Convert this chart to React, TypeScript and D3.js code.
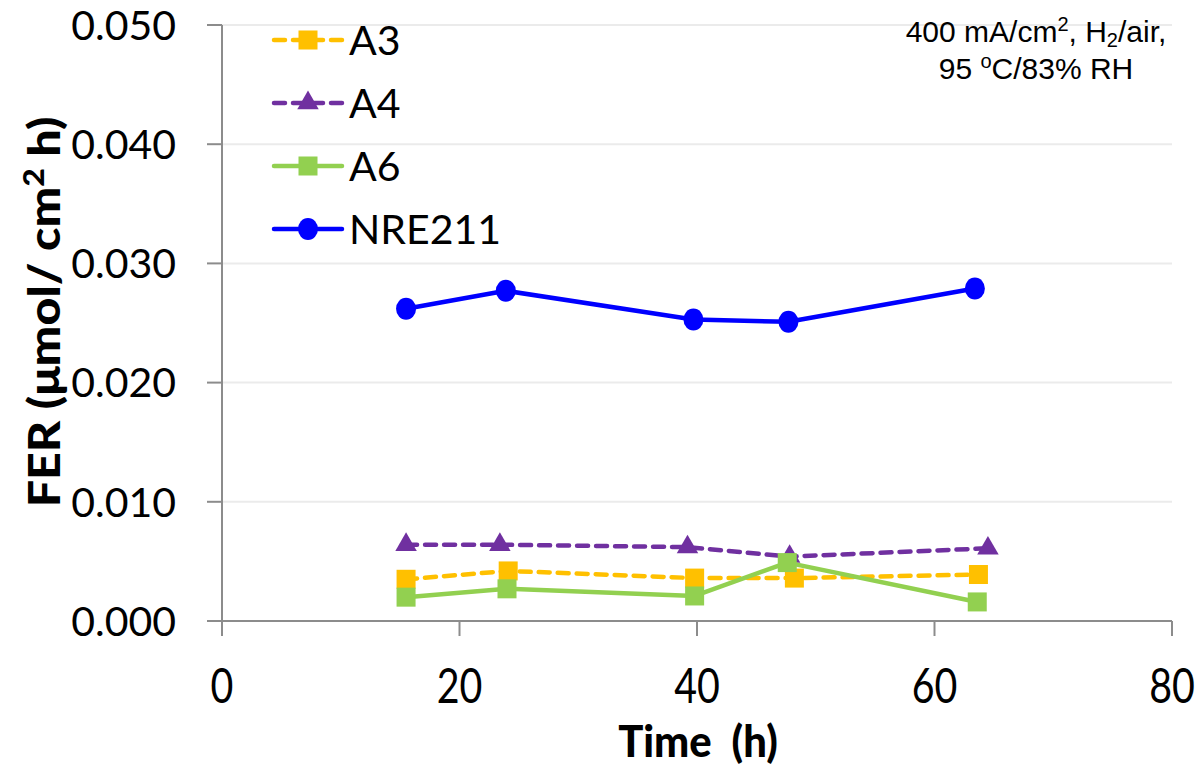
import * as d3 from 'd3'

const seriesNames = ['A3', 'A4', 'A6', 'NRE211']

const a3Time = [15.5, 24.1, 39.8, 48.2, 63.7]
const a3Fer = [0.0035, 0.0042, 0.0036, 0.0036, 0.0039]

const a4Time = [15.5, 23.4, 39.2, 47.8, 64.5]
const a4Fer = [0.0064, 0.0064, 0.0062, 0.0054, 0.0061]

const a6Time = [15.5, 24.0, 39.8, 47.6, 63.6]
const a6Fer = [0.0020, 0.0027, 0.0021, 0.0049, 0.0016]

const nreTime = [15.5, 23.9, 39.7, 47.7, 63.4]
const nreFer = [0.0262, 0.0277, 0.0253, 0.0251, 0.0279]

const xTicks = [0, 20, 40, 60, 80]
const yTicks = [0, 0.01, 0.02, 0.03, 0.04, 0.05]

const W = 1201
const H = 773
const left = 222
const right = 1172
const top = 25
const bottom = 621

const colors = { A3: '#FFC000', A4: '#7030A0', A6: '#92D050', NRE211: '#0000FF' }

export default function App() {
  const x = d3.scaleLinear().domain([0, 80]).range([left, right])
  const y = d3.scaleLinear().domain([0, 0.05]).range([bottom, top])

  const series = [
    { name: 'A3', time: a3Time, fer: a3Fer, dash: '11 8', marker: 'square' },
    { name: 'A4', time: a4Time, fer: a4Fer, dash: '11 8', marker: 'triangle' },
    { name: 'A6', time: a6Time, fer: a6Fer, dash: null, marker: 'square' },
    { name: 'NRE211', time: nreTime, fer: nreFer, dash: null, marker: 'circle' },
  ]

  const line = d3.line<[number, number]>().x(d => x(d[0])).y(d => y(d[1]))

  const marker = (kind: string, cx: number, cy: number, color: string, key: any) => {
    if (kind === 'square') return <rect key={key} x={cx - 9.5} y={cy - 9.5} width={19} height={19} fill={color} />
    if (kind === 'triangle') {
      const tri = d3.symbol().type(d3.symbolTriangle).size(200)()
      return <path key={key} d={tri || ''} transform={`translate(${cx},${cy})`} fill={color} />
    }
    return <ellipse key={key} cx={cx} cy={cy} rx={10} ry={11} fill={color} />
  }

  const font = 'Lato, "Open Sans", sans-serif'

  return (
    <svg width={W} height={H} style={{ position: 'absolute', left: 0, top: 0, background: '#fff' }}>
      {/* gridlines */}
      {yTicks.filter(t => t > 0).map(t => (
        <line key={t} x1={left} x2={right} y1={y(t)} y2={y(t)} stroke="#ebebeb" strokeWidth={2} />
      ))}
      {/* axes */}
      <line x1={left} x2={left} y1={top} y2={bottom + 15} stroke="#8c8c8c" strokeWidth={2} />
      <line x1={left - 15} x2={right} y1={bottom} y2={bottom} stroke="#8c8c8c" strokeWidth={2} />
      {yTicks.map(t => (
        <g key={t}>
          <line x1={left - 15} x2={left} y1={y(t)} y2={y(t)} stroke="#8c8c8c" strokeWidth={2} />
          <text x={176} y={y(t)} dy="0.36em" textAnchor="end" fontFamily={font} fontSize={41} fill="#000">
            {d3.format('.3f')(t)}
          </text>
        </g>
      ))}
      {xTicks.map(t => (
        <g key={t}>
          <line x1={x(t)} x2={x(t)} y1={bottom} y2={bottom + 15} stroke="#8c8c8c" strokeWidth={2} />
          <text transform={`translate(${x(t)},703) scale(0.82,1)`} textAnchor="middle" fontFamily={font} fontSize={48} fill="#000">
            {t}
          </text>
        </g>
      ))}

      {/* axis titles */}
      <text transform="translate(698,757) scale(0.95,1)" textAnchor="middle" fontFamily={font} fontWeight="900" fontSize={44} fill="#000" style={{ whiteSpace: 'pre' }}>
        {'Time  (h)'}
      </text>
      <text transform="translate(60,312) rotate(-90) scale(1.1,1)" textAnchor="middle" fontFamily={font} fontWeight="900" fontSize={44} fill="#000" style={{ whiteSpace: 'pre' }}>
        FER (μmol/ cm<tspan dy="-16" fontSize={29}>2</tspan><tspan dy="16"> h)</tspan>
      </text>

      {/* series */}
      {series.map(s => {
        const pts: [number, number][] = s.time.map((t, i) => [t, s.fer[i]])
        const c = (colors as any)[s.name]
        return (
          <g key={s.name}>
            <path d={line(pts) || ''} fill="none" stroke={c} strokeWidth={4.5}
              strokeDasharray={s.dash || undefined} strokeLinecap={s.dash ? 'round' : 'butt'} strokeLinejoin="round" />
            {pts.map((p, i) => marker(s.marker, x(p[0]), y(p[1]), c, i))}
          </g>
        )
      })}

      {/* legend */}
      {seriesNames.map((name, i) => {
        const s = series[i]
        const c = (colors as any)[name]
        const ly = 40 + i * 63
        return (
          <g key={name}>
            <line x1={274} x2={342} y1={ly} y2={ly} stroke={c} strokeWidth={4.5}
              strokeDasharray={s.dash || undefined} strokeLinecap="round" />
            {marker(s.marker, 308, ly, c, 'm')}
            <text x={349} y={ly} dy="0.36em" fontFamily={font} fontSize={41} fill="#000">{name}</text>
          </g>
        )
      })}

      {/* annotation */}
      <g fontFamily='"Liberation Sans", Arial, sans-serif' fontSize={30} fill="#000" textAnchor="middle">
        <text x={1036} y={42}>
          400 mA/cm<tspan dy="-11" fontSize={20}>2</tspan><tspan dy="11">, H</tspan><tspan dy="5" fontSize={20}>2</tspan><tspan dy="-5">/air,</tspan>
        </text>
        <text x={1036} y={79}>
          95 <tspan dy="-11" fontSize={20}>o</tspan><tspan dy="11">C/83% RH</tspan>
        </text>
      </g>
    </svg>
  )
}
